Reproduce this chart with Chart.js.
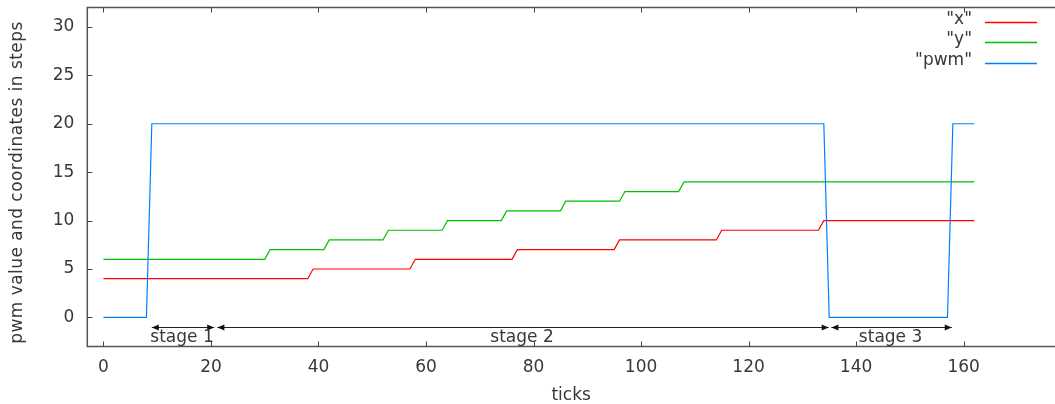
<!DOCTYPE html>
<html><head><meta charset="utf-8">
<script src="https://cdn.jsdelivr.net/npm/chart.js@4/dist/chart.umd.min.js"></script>
<style>html,body{margin:0;padding:0;background:#fff;overflow:hidden}#wrap{width:1055px;height:404px;position:relative}</style>
</head><body><div id="wrap"><canvas id="c" width="1055" height="404"></canvas></div>
<script>
// ---- data ----
const seriesLabels = ['"x"', '"y"', '"pwm"'];
const xSeriesTicks = [0, 38, 39, 57, 58, 76, 77, 95, 96, 114, 115, 133, 134, 162];
const xSeriesValues = [4, 4, 5, 5, 6, 6, 7, 7, 8, 8, 9, 9, 10, 10];
const ySeriesTicks = [0, 30, 31, 41, 42, 52, 53, 63, 64, 74, 75, 85, 86, 96, 97, 107, 108, 162];
const ySeriesValues = [6, 6, 7, 7, 8, 8, 9, 9, 10, 10, 11, 11, 12, 12, 13, 13, 14, 14];
const pwmTicks = [0, 8, 9, 134, 135, 157, 158, 162];
const pwmValues = [0, 0, 20, 20, 0, 0, 20, 20];
const stageLabels = ['stage 1', 'stage 2', 'stage 3'];
const stageStart = [9, 21.2, 135.4];
const stageEnd = [20.6, 134.9, 157.8];
const stageLevel = -1;
const xAxisTicks = [0, 20, 40, 60, 80, 100, 120, 140, 160];
const yAxisTicks = [0, 5, 10, 15, 20, 25, 30];
const xTitle = 'ticks';
const yTitle = 'pwm value and coordinates in steps';

const FONT = 'DejaVu Sans';
const TXT = '#383838';
const FRAME = '#555555';
const colors = ['#ff0000', '#00c000', '#0080ff'];

const pts = (xs, vs) => xs.map((x, i) => ({x: x, y: vs[i]}));

const gnuplotDecor = {
  id: 'gnuplotDecor',
  afterDatasetsDraw(chart) {
    const {ctx, chartArea: a, scales: {x, y}} = chart;
    ctx.save();
    // frame (left, top, bottom)
    ctx.strokeStyle = FRAME;
    ctx.lineWidth = 1.5;
    ctx.beginPath();
    ctx.moveTo(a.right + 2, a.top); ctx.lineTo(a.left, a.top);
    ctx.lineTo(a.left, a.bottom); ctx.lineTo(a.right + 2, a.bottom);
    ctx.stroke();
    // inward ticks
    ctx.lineWidth = 1;
    ctx.strokeStyle = '#444';
    ctx.beginPath();
    xAxisTicks.forEach(v => {
      const px = Math.round(x.getPixelForValue(v)) + 0.5;
      ctx.moveTo(px, a.bottom); ctx.lineTo(px, a.bottom - 5);
      ctx.moveTo(px, a.top); ctx.lineTo(px, a.top + 5);
    });
    yAxisTicks.forEach(v => {
      const py = Math.round(y.getPixelForValue(v)) + 0.5;
      ctx.moveTo(a.left, py); ctx.lineTo(a.left + 5, py);
    });
    ctx.stroke();
    // y axis title
    ctx.save();
    ctx.fillStyle = TXT;
    ctx.font = '17px "' + FONT + '"';
    try { ctx.letterSpacing = '0.45px'; } catch (e) {}
    ctx.translate(17.8, 182.5);
    ctx.rotate(-Math.PI / 2);
    ctx.textAlign = 'center';
    ctx.textBaseline = 'middle';
    ctx.fillText(yTitle, 0, 0);
    ctx.restore();
    // stage arrows
    ctx.strokeStyle = '#222';
    ctx.lineWidth = 1;
    const py = Math.round(y.getPixelForValue(stageLevel)) + 0.5;
    const head = (tipX, dir) => {
      ctx.fillStyle = '#111';
      ctx.beginPath();
      ctx.moveTo(tipX, py);
      ctx.lineTo(tipX - dir * 7, py - 3);
      ctx.lineTo(tipX - dir * 7, py + 3);
      ctx.closePath();
      ctx.fill();
    };
    stageLabels.forEach((lab, i) => {
      const x0 = x.getPixelForValue(stageStart[i]);
      const x1 = x.getPixelForValue(stageEnd[i]);
      ctx.beginPath(); ctx.moveTo(x0, py); ctx.lineTo(x1, py); ctx.stroke();
      head(x0, -1); head(x1, 1);
      ctx.fillStyle = TXT;
      ctx.font = '17px "' + FONT + '"';
      ctx.textAlign = 'center';
      ctx.textBaseline = 'alphabetic';
      ctx.fillText(lab, (x0 + x1) / 2 - 1, py + 14.5);
    });
    // legend
    ctx.font = '17px "' + FONT + '"';
    ctx.textAlign = 'right';
    ctx.textBaseline = 'middle';
    chart.data.datasets.forEach((ds, i) => {
      const ly = 21.5 + i * 20.5;
      ctx.fillStyle = TXT;
      ctx.fillText(ds.label, 972, ly - 2);
      const ry = Math.round(ly) + 0.5;
      ctx.strokeStyle = colors[i];
      ctx.globalAlpha = 1;
      ctx.lineWidth = 1.3;
      ctx.beginPath(); ctx.moveTo(985, ry); ctx.lineTo(1037, ry); ctx.stroke();
    });
    ctx.restore();
  }
};

const zeroPad = s => { s.paddingTop = 0; s.paddingBottom = 0; s.paddingLeft = 0; s.paddingRight = 0; };

new Chart(document.getElementById('c'), {
  type: 'line',
  data: {
    datasets: [
      {label: seriesLabels[0], data: pts(xSeriesTicks, xSeriesValues), borderColor: colors[0], order: 3},
      {label: seriesLabels[1], data: pts(ySeriesTicks, ySeriesValues), borderColor: colors[1], order: 2},
      {label: seriesLabels[2], data: pts(pwmTicks, pwmValues), borderColor: colors[2], order: 1}
    ]
  },
  options: {
    responsive: false,
    animation: false,
    devicePixelRatio: 1,
    elements: {
      line: {borderWidth: 1.2, tension: 0, fill: false},
      point: {radius: 0, hoverRadius: 0}
    },
    layout: {padding: {top: 7.5, right: 0, left: 0, bottom: 0}},
    plugins: {legend: {display: false}, tooltip: {enabled: false}},
    events: [],
    scales: {
      x: {
        type: 'linear', min: -3, max: 177,
        afterBuildTicks: s => { s.ticks = xAxisTicks.map(v => ({value: v})); },
        afterFit: s => { s.height = 57.5; zeroPad(s); },
        grid: {display: false},
        border: {display: false},
        ticks: {font: {family: FONT, size: 17}, color: TXT, padding: 3, maxRotation: 0, autoSkip: false},
        title: {display: true, text: xTitle, font: {family: FONT, size: 17}, color: TXT, padding: {top: 0, bottom: -1.5}}
      },
      y: {
        type: 'linear', min: -3, max: 32,
        afterBuildTicks: s => { s.ticks = yAxisTicks.map(v => ({value: v})); },
        afterFit: s => { s.width = 87.3; zeroPad(s); },
        grid: {display: false},
        border: {display: false},
        ticks: {font: {family: FONT, size: 17}, color: TXT, padding: 5, autoSkip: false},
        title: {display: false}
      }
    }
  },
  plugins: [gnuplotDecor]
});
</script></body></html>
